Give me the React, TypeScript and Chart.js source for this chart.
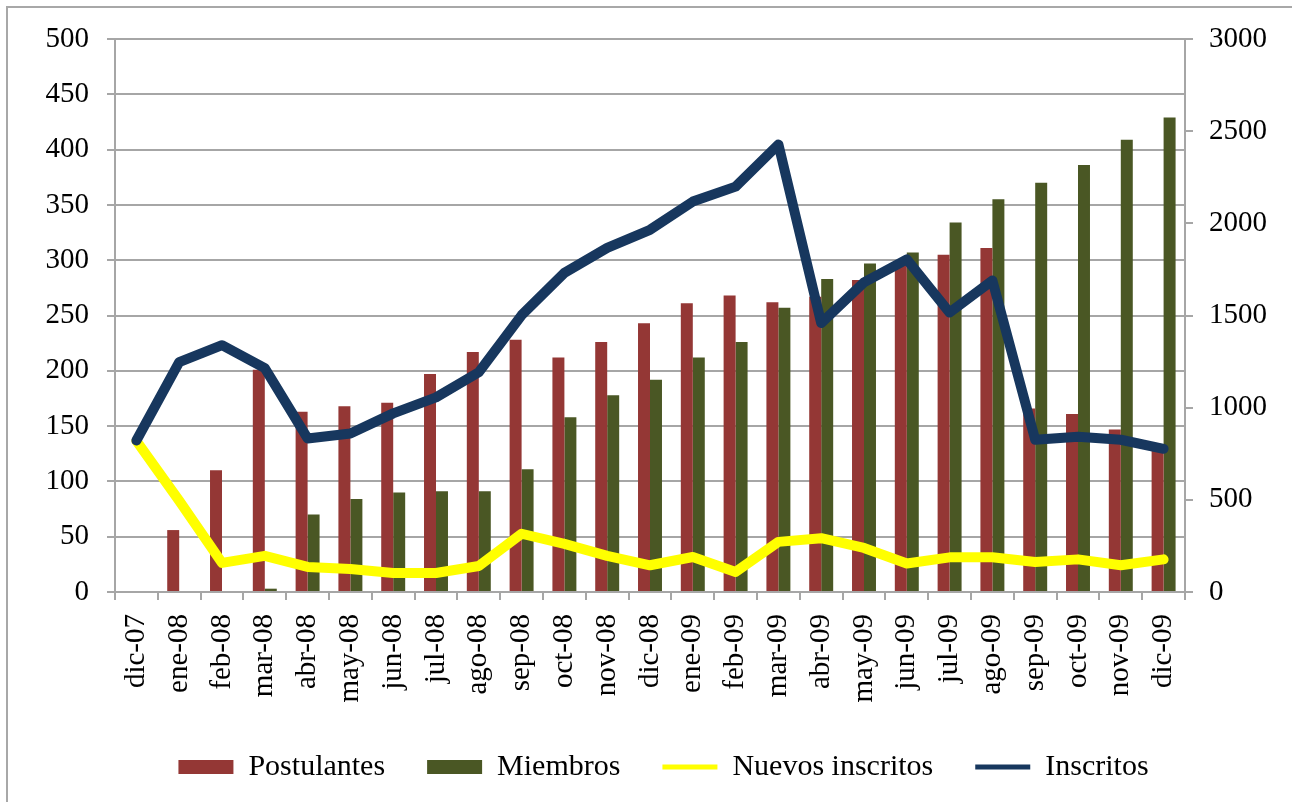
import React, { useEffect, useRef } from "react";
import { Chart, registerables } from "chart.js";

Chart.register(...registerables);

const categories = [
  "dic-07", "ene-08", "feb-08", "mar-08", "abr-08", "may-08", "jun-08", "jul-08",
  "ago-08", "sep-08", "oct-08", "nov-08", "dic-08", "ene-09", "feb-09", "mar-09",
  "abr-09", "may-09", "jun-09", "jul-09", "ago-09", "sep-09", "oct-09", "nov-09", "dic-09",
];

const postulantes = [
  0, 56, 110, 201, 163, 168, 171, 197, 217, 228, 212, 226, 243, 261, 268, 262,
  267, 282, 298, 305, 311, 166, 161, 147, 130,
];

const miembros = [
  0, 0, 0, 3, 70, 84, 90, 91, 91, 111, 158, 178, 192, 212, 226, 257,
  283, 297, 307, 334, 355, 370, 386, 409, 429,
];

const nuevosInscritos = [
  820, 495, 158, 196, 136, 125, 103, 103, 141, 316, 261, 196, 145, 190, 109, 272,
  292, 239, 155, 188, 188, 163, 177, 145, 177,
];

const inscritos = [
  822, 1247, 1339, 1214, 833, 860, 969, 1056, 1192, 1502, 1731, 1867, 1965, 2118, 2199, 2428,
  1459, 1680, 1805, 1516, 1690, 826, 842, 826, 777,
];

const leftTicks = [0, 50, 100, 150, 200, 250, 300, 350, 400, 450, 500];
const rightTicks = [0, 500, 1000, 1500, 2000, 2500, 3000];

const FONT = "'Liberation Serif', 'Times New Roman', serif";
const GRID = "#a6a6a6";

export default function App() {
  const ref = useRef<HTMLCanvasElement | null>(null);

  useEffect(() => {
    if (!ref.current) return;
    const defaultLabels = (Chart as any).defaults.plugins.legend.labels.generateLabels;
    const chart = new Chart(ref.current, {
      type: "bar",
      data: {
        labels: categories,
        datasets: [
          {
            type: "bar",
            label: "Postulantes",
            data: postulantes,
            backgroundColor: "#943735",
            yAxisID: "y",
            order: 3,
            categoryPercentage: 0.56,
            barPercentage: 1,
          } as any,
          {
            type: "bar",
            label: "Miembros",
            data: miembros,
            backgroundColor: "#4a5724",
            yAxisID: "y",
            order: 3,
            categoryPercentage: 0.56,
            barPercentage: 1,
          },
          {
            type: "line",
            label: "Nuevos inscritos",
            data: nuevosInscritos,
            borderColor: "#ffff00",
            backgroundColor: "#ffff00",
            borderWidth: 10,
            pointRadius: 0,
            pointStyle: "line",
            tension: 0,
            borderJoinStyle: "round",
            borderCapStyle: "round",
            yAxisID: "y1",
            order: 2,
          },
          {
            type: "line",
            label: "Inscritos",
            data: inscritos,
            borderColor: "#17375e",
            backgroundColor: "#17375e",
            borderWidth: 10,
            pointRadius: 0,
            pointStyle: "line",
            tension: 0,
            borderJoinStyle: "round",
            borderCapStyle: "round",
            yAxisID: "y1",
            order: 1,
          },
        ],
      },
      options: {
        responsive: false,
        animation: false,
        layout: { padding: { left: 0, right: 0, top: 39, bottom: 10 } },
        plugins: {
          tooltip: { enabled: false },
          legend: {
            position: "bottom",
            labels: {
              usePointStyle: true,
              pointStyleWidth: 55,
              boxHeight: 14,
              padding: 42,
              color: "#000",
              font: { family: FONT, size: 30 },
              sort: (a: any, b: any) => a.datasetIndex - b.datasetIndex,
              generateLabels: (c: any) => {
                const items = defaultLabels(c);
                items.forEach((it: any) => {
                  const ds = c.data.datasets[it.datasetIndex];
                  if (ds.type === "line") {
                    it.pointStyle = "line";
                    it.lineWidth = 5;
                    it.strokeStyle = ds.borderColor;
                  } else {
                    it.pointStyle = "rect";
                    it.lineWidth = 0;
                    it.fillStyle = ds.backgroundColor;
                  }
                });
                return items;
              },
            },
          },
        },
        scales: {
          x: {
            offset: true,
            grid: {
              offset: true,
              drawOnChartArea: false,
              drawTicks: true,
              tickLength: 8,
              color: GRID,
              lineWidth: 2,
            },
            border: { color: GRID, width: 2 },
            ticks: {
              autoSkip: false,
              minRotation: 90,
              maxRotation: 90,
              padding: 14,
              color: "#000",
              font: { family: FONT, size: 29 },
            },
            afterFit: (s: any) => {
              s.height = 118;
            },
          },
          y: {
            position: "left",
            min: 0,
            max: 500,
            afterBuildTicks: (s: any) => {
              s.ticks = leftTicks.map((v) => ({ value: v }));
            },
            grid: { color: GRID, lineWidth: 2, tickLength: 8 },
            border: { color: GRID, width: 2 },
            ticks: {
              padding: 18,
              color: "#000",
              font: { family: FONT, size: 29 },
              callback: (v: any) => String(v),
            },
            afterFit: (s: any) => {
              s.width = 115;
            },
          },
          y1: {
            position: "right",
            min: 0,
            max: 3000,
            afterBuildTicks: (s: any) => {
              s.ticks = rightTicks.map((v) => ({ value: v }));
            },
            grid: { drawOnChartArea: false, color: GRID, lineWidth: 2, tickLength: 8 },
            border: { color: GRID, width: 2 },
            ticks: {
              padding: 16,
              color: "#000",
              font: { family: FONT, size: 29 },
              callback: (v: any) => String(v),
            },
            afterFit: (s: any) => {
              s.width = 107;
            },
          },
        },
      },
      plugins: [
        {
          id: "shiftLegend",
          afterLayout: (c: any) => {
            if (c.legend) {
              c.legend.left += 35;
            }
          },
        },
      ],
    } as any);
    return () => chart.destroy();
  }, []);

  return (
    <div
      style={{
        position: "fixed",
        left: 0,
        top: 0,
        width: 1292,
        height: 802,
        overflow: "hidden",
        background: "#fff",
      }}
    >
      <div
        style={{
          position: "absolute",
          left: 6,
          top: 6,
          width: 1400,
          height: 1000,
          border: "2px solid #a8a8a8",
        }}
      />
      <canvas
        ref={ref}
        width={1292}
        height={802}
        style={{ position: "absolute", left: 0, top: 0 }}
      />
    </div>
  );
}
